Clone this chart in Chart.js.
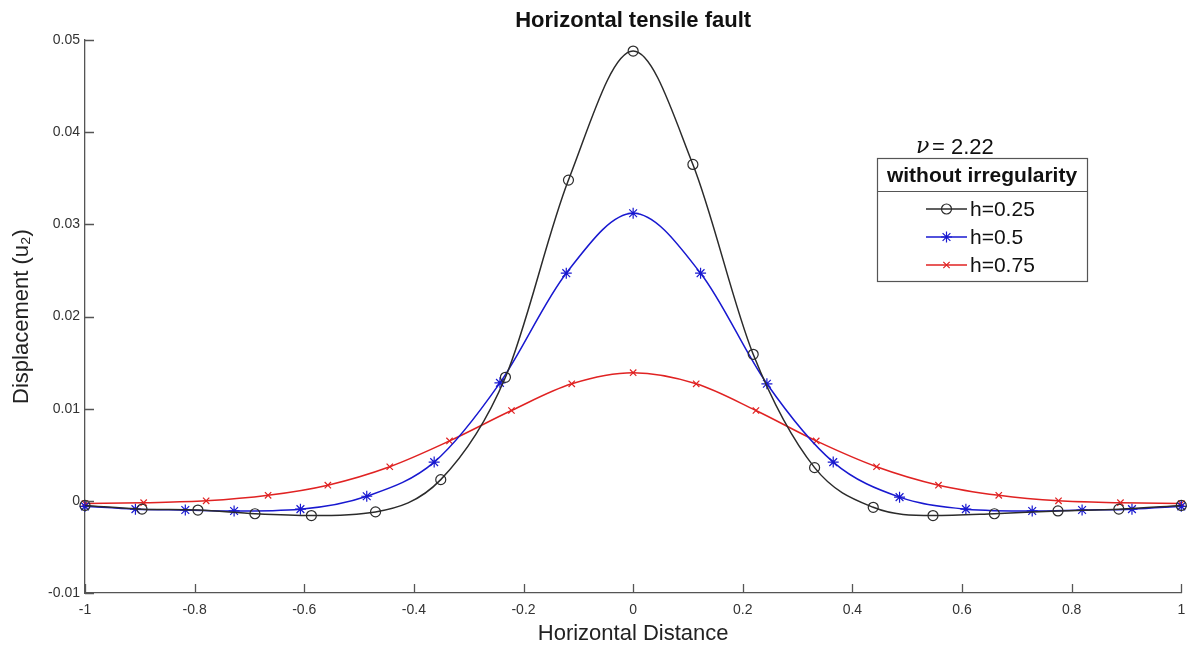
<!DOCTYPE html>
<html>
<head>
<meta charset="utf-8">
<script src="https://cdn.jsdelivr.net/npm/chart.js@4/dist/chart.umd.min.js"></script>
<style>
  html, body { margin: 0; padding: 0; background: #fff; }
  #wrap { width: 1188px; height: 648px; }
</style>
</head>
<body>
<div id="wrap"><canvas id="faultChart"></canvas></div>
<script>
// marker positions along each displacement profile
const xH025 = [-1, -0.896, -0.794, -0.690, -0.587, -0.470, -0.351, -0.233, -0.118, 0, 0.109, 0.219, 0.331, 0.438, 0.547, 0.659, 0.775, 0.886, 1];
const yH025 = [-0.0005, -0.0009, -0.0010, -0.0014, -0.0016, -0.0012, 0.0023, 0.0134, 0.0348, 0.0488, 0.0365, 0.0159, 0.0036, -0.0007, -0.0016, -0.0014, -0.0011, -0.0009, -0.0005];

const xH05 = [-1, -0.908, -0.817, -0.728, -0.607, -0.486, -0.363, -0.243, -0.122, 0, 0.123, 0.244, 0.365, 0.486, 0.607, 0.728, 0.819, 0.910, 1];
const yH05 = [-0.0006, -0.0009, -0.0010, -0.0011, -0.0009, 0.0005, 0.0042, 0.0128, 0.0247, 0.0312, 0.0247, 0.0127, 0.0042, 0.0004, -0.0009, -0.0011, -0.0010, -0.0009, -0.0006];

const xH075 = [-1, -0.893, -0.779, -0.666, -0.557, -0.444, -0.335, -0.222, -0.112, 0, 0.115, 0.224, 0.334, 0.444, 0.557, 0.667, 0.776, 0.889, 1];
const yH075 = [-0.0003, -0.0002, 0.0000, 0.0006, 0.0017, 0.0037, 0.0065, 0.0098, 0.0127, 0.0139, 0.0127, 0.0098, 0.0065, 0.0037, 0.0017, 0.0006, 0.0000, -0.0002, -0.0003];

const seriesLabels = ['h=0.25', 'h=0.5', 'h=0.75'];
const legendTitle = 'without irregularity';
const nuValue = '2.22';

const toPoints = (xs, ys) => xs.map((x, i) => ({ x: x, y: ys[i] }));

const FONT = '"Liberation Sans", Arial, sans-serif';

// MATLAB style ticks pointing into the axes
const inwardTicks = {
    id: 'inwardTicks',
    afterDraw(chart) {
        const { ctx, chartArea, scales } = chart;
        const len = 9;
        ctx.save();
        ctx.strokeStyle = '#555';
        ctx.lineWidth = 1.3;
        ctx.beginPath();
        scales.x.ticks.forEach(t => {
            const px = Math.round(scales.x.getPixelForValue(t.value)) + 0.5;
            ctx.moveTo(px, chartArea.bottom);
            ctx.lineTo(px, chartArea.bottom - len);
        });
        scales.y.ticks.forEach(t => {
            const py = Math.round(scales.y.getPixelForValue(t.value)) + 0.5;
            ctx.moveTo(chartArea.left, py);
            ctx.lineTo(chartArea.left + len, py);
        });
        ctx.stroke();
        ctx.restore();
    }
};

// boxed legend with a header row and the nu value above it
const legendBox = {
    id: 'legendBox',
    afterDraw(chart) {
        const ctx = chart.ctx;
        const left = 877, right = 1087, top = 158, split = 191, bottom = 281;
        const rows = [209, 237, 265];
        ctx.save();

        // nu label
        ctx.fillStyle = '#111';
        ctx.textBaseline = 'middle';
        ctx.textAlign = 'left';
        ctx.font = 'italic 22px "DejaVu Serif", serif';
        ctx.fillText('\u03BD', 916, 147);
        ctx.font = '22px ' + FONT;
        ctx.fillText('= ' + nuValue, 932, 148);

        ctx.fillStyle = '#fff';
        ctx.fillRect(left, top, right - left, bottom - top);
        ctx.strokeStyle = '#555';
        ctx.lineWidth = 1.2;
        ctx.strokeRect(left + 0.5, top + 0.5, right - left, bottom - top);
        ctx.beginPath();
        ctx.moveTo(left, split + 0.5);
        ctx.lineTo(right, split + 0.5);
        ctx.stroke();

        ctx.fillStyle = '#111';
        ctx.textAlign = 'center';
        ctx.font = 'bold 21px ' + FONT;
        ctx.fillText(legendTitle, (left + right) / 2, 176);

        chart.data.datasets.forEach((ds, i) => {
            const y = rows[i];
            ctx.strokeStyle = ds.borderColor;
            ctx.lineWidth = ds.borderWidth;
            ctx.beginPath();
            ctx.moveTo(926, y);
            ctx.lineTo(967, y);
            ctx.stroke();
            ctx.fillStyle = 'rgba(0,0,0,0)';
            ctx.lineWidth = ds.pointBorderWidth;
            Chart.helpers.drawPoint(ctx, {
                pointStyle: ds.pointStyle,
                radius: ds.pointRadius,
                rotation: 0,
                borderWidth: ds.pointBorderWidth
            }, 946.5, y);
            ctx.fillStyle = '#111';
            ctx.textAlign = 'left';
            ctx.font = '21px ' + FONT;
            ctx.fillText(ds.label, 970, y + 1);
        });
        ctx.restore();
    }
};

const makeSet = (label, xs, ys, color, style, radius) => ({
    label: label,
    data: toPoints(xs, ys),
    showLine: true,
    borderColor: color,
    borderWidth: 1.5,
    backgroundColor: 'rgba(0,0,0,0)',
    pointStyle: style,
    pointRadius: radius,
    pointBorderWidth: 1.2,
    pointBorderColor: color,
    pointBackgroundColor: 'rgba(0,0,0,0)',
    cubicInterpolationMode: 'monotone',
    clip: false
});

document.addEventListener('DOMContentLoaded', () => {
    const canvas = document.getElementById('faultChart');
    new Chart(canvas, {
        type: 'scatter',
        data: {
            datasets: [
                makeSet(seriesLabels[0], xH025, yH025, '#2b2b2b', 'circle', 5),
                makeSet(seriesLabels[1], xH05, yH05, '#1818d0', 'star', 5.5),
                makeSet(seriesLabels[2], xH075, yH075, '#e02222', 'crossRot', 4.5)
            ]
        },
        options: {
            responsive: true,
            maintainAspectRatio: false,
            animation: false,
            layout: { padding: { left: 0, right: 2, top: 0, bottom: 0 } },
            plugins: {
                legend: { display: false },
                tooltip: { enabled: false },
                title: {
                    display: true,
                    fullSize: false,
                    text: 'Horizontal tensile fault',
                    color: '#111',
                    font: { family: FONT, size: 22, weight: 'bold', lineHeight: 1.2 },
                    padding: { top: 8, bottom: 5.6 }
                }
            },
            scales: {
                x: {
                    type: 'linear',
                    min: -1,
                    max: 1,
                    grid: { display: true, drawOnChartArea: false, drawTicks: false },
                    border: { display: true, color: '#555', width: 1.3 },
                    ticks: {
                        stepSize: 0.2,
                        padding: 9,
                        color: '#333',
                        font: { family: FONT, size: 14 },
                        maxRotation: 0,
                        callback: v => String(+v.toFixed(1))
                    },
                    title: {
                        display: true,
                        text: 'Horizontal Distance',
                        color: '#222',
                        font: { family: FONT, size: 22 },
                        padding: { top: 0, bottom: 1 }
                    },
                    afterFit: s => { s.height = 55; s.paddingLeft = 0; s.paddingRight = 0; }
                },
                y: {
                    type: 'linear',
                    min: -0.01,
                    max: 0.05,
                    grid: { display: true, drawOnChartArea: false, drawTicks: false },
                    border: { display: true, color: '#555', width: 1.3 },
                    ticks: {
                        stepSize: 0.01,
                        padding: 5,
                        color: '#333',
                        font: { family: FONT, size: 14 },
                        callback: v => String(+v.toFixed(2))
                    },
                    title: {
                        display: true,
                        text: 'Displacement (u\u2082)',
                        color: '#222',
                        font: { family: FONT, size: 22 },
                        padding: { top: 9, bottom: 0 }
                    },
                    afterFit: s => { s.width = 85; s.paddingTop = 0; s.paddingBottom = 0; }
                }
            }
        },
        plugins: [inwardTicks, legendBox]
    });
});
</script>
</body>
</html>
